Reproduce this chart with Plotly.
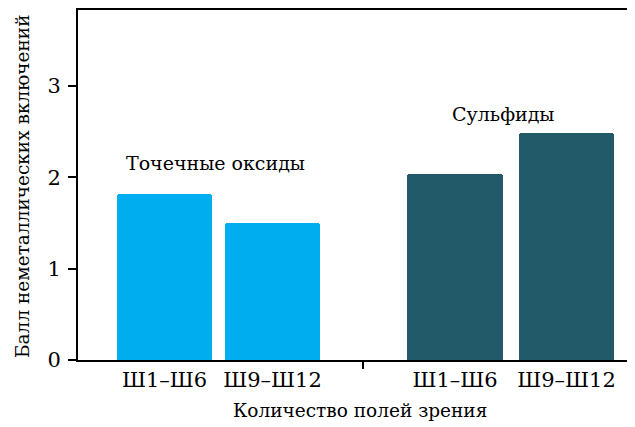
import plotly.graph_objects as go
from plotly.subplots import make_subplots

categories = ["Ш1–Ш6", "Ш9–Ш12"]
oxides = [1.82, 1.50]
sulfides = [2.04, 2.48]
group_labels = ["Точечные оксиды", "Сульфиды"]
y_ticks = [0, 1, 2, 3]
x_title = "Количество полей зрения"
y_title = "Балл неметаллических включений"

FONT = "DejaVu Serif"
FS = 21
OFF = 8  # page body margin offset
W, H = 635 - OFF, 427 - OFF
L, R, T, B = 78 - OFF, 0, 10 - OFF, 67
pw = W - L - R
ph = H - T - B
X0 = L + OFF  # screen x of plot left
Y0 = 360      # screen y of plot bottom
split = (363 - X0) / pw

fig = make_subplots(rows=1, cols=2, shared_yaxes=True, horizontal_spacing=0,
                    column_widths=[split, 1 - split])

fig.add_trace(go.Bar(x=categories, y=oxides, marker=dict(color="#00AEEF", cornerradius=3,
                     line=dict(width=0)), width=0.88, showlegend=False), row=1, col=1)
fig.add_trace(go.Bar(x=categories, y=sulfides, marker=dict(color="#235A69", cornerradius=3,
                     line=dict(width=0)), width=0.86, showlegend=False), row=1, col=2)

axis_common = dict(showline=True, linecolor="black", linewidth=2, mirror=True,
                   ticks="", showgrid=False, zeroline=False, automargin=False,
                   tickfont=dict(family=FONT, size=FS, color="black"))
fig.update_xaxes(**axis_common)
fig.update_xaxes(range=[-0.801, 1.838], row=1, col=1)
fig.update_xaxes(range=[-0.825, 1.614], row=1, col=2)

fig.update_yaxes(range=[0, 3.83], showgrid=False, zeroline=False, automargin=False)
fig.update_yaxes(showline=True, linecolor="black", linewidth=2, ticks="outside",
                 ticklen=8, tickwidth=2, tickcolor="black", tickvals=y_ticks,
                 ticklabelstandoff=3,
                 tickfont=dict(family=FONT, size=FS, color="black"),
                 row=1, col=1)
fig.update_yaxes(showline=False, showticklabels=False, ticks="", row=1, col=2)

fig.add_shape(type="line", xref="paper", yref="paper", x0=split, x1=split,
              y0=0, y1=-9 / ph, line=dict(color="black", width=2))

def px(x):
    return (x - X0) / pw

def py(y):
    return (Y0 - y) / ph

def label(text, x, y, size, angle=0):
    fig.add_annotation(text=text, xref="paper", yref="paper", x=px(x), y=py(y),
                       xanchor="center", yanchor="middle", textangle=angle,
                       showarrow=False, font=dict(family=FONT, size=size, color="black"))

label(group_labels[0], 215.5, 163, 19)
label(group_labels[1], 503.5, 114, 19)
label(x_title, 360, 410, 18.5)
label(y_title, 22, 187, 18.5, -90)

fig.update_layout(width=W, height=H, margin=dict(l=L, r=R, t=T, b=B),
                  paper_bgcolor="white", plot_bgcolor="white", bargap=0,
                  font=dict(family=FONT))

fig.write_html("out.html")
